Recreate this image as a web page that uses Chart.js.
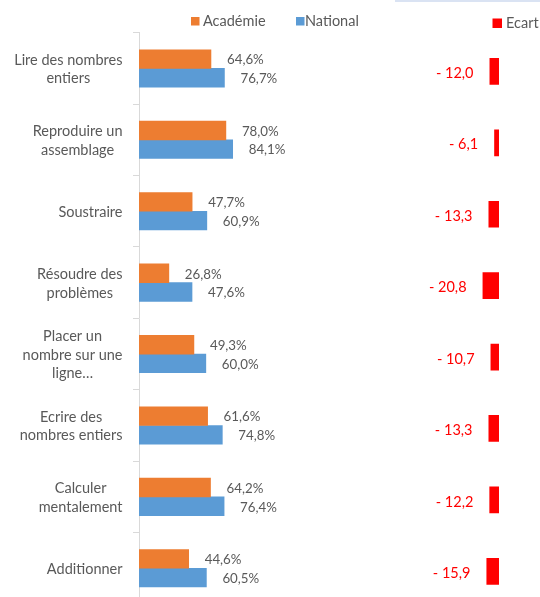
<!DOCTYPE html>
<html lang="fr">
<head>
<meta charset="utf-8">
<title>Résultats par compétence</title>
<script src="https://cdn.jsdelivr.net/npm/chart.js@4.4.1/dist/chart.umd.min.js"></script>
<style>
  html, body { margin: 0; padding: 0; background: #fff; overflow: hidden; }
  #wrap { position: relative; width: 540px; height: 597px; overflow: hidden; }
  #topline { position: absolute; left: 395px; top: 0; width: 145px; height: 2px; background: #dae3f3; }
  canvas { display: block; }
</style>
</head>
<body>
<div id="wrap">
  <canvas id="chart" width="540" height="605"></canvas>
  <div id="topline"></div>
</div>
<script>
// Data
const categories = [
    ['Lire des nombres', 'entiers'],
    ['Reproduire un', 'assemblage'],
    ['Soustraire'],
    ['Résoudre des', 'problèmes'],
    ['Placer un', 'nombre sur une', 'ligne…'],
    ['Ecrire des', 'nombres entiers'],
    ['Calculer', 'mentalement'],
    ['Additionner']
];
const academie = [64.6, 78.0, 47.7, 26.8, 49.3, 61.6, 64.2, 44.6];
const national = [76.7, 84.1, 60.9, 47.6, 60.0, 74.8, 76.4, 60.5];
const ecart = [-12.0, -6.1, -13.3, -20.8, -10.7, -13.3, -12.2, -15.9];

const ORANGE = '#ed7d31';
const BLUE = '#5b9bd5';
const RED = '#ff0000';
const GREY_TEXT = '#595959';
const FONT = 'Lato, "Open Sans", sans-serif';
const ECART_SHIFT = 3; // red bars sit slightly below the category centre

function fmtPct(v) {
    return v.toFixed(1).replace('.', ',') + '%';
}
function fmtEcart(v) {
    return (v < 0 ? '- ' : '') + Math.abs(v).toFixed(1).replace('.', ',');
}

// category labels: block right-aligned against the axis, lines centred in the block
const categoryLabels = {
    id: 'categoryLabels',
    afterDraw(chart) {
        const ctx = chart.ctx;
        const yScale = chart.scales.y;
        const right = chart.chartArea.left - 16.5;
        const lineH = 18.5;
        ctx.save();
        ctx.font = '14.5px ' + FONT;
        ctx.fillStyle = GREY_TEXT;
        ctx.textAlign = 'center';
        ctx.textBaseline = 'middle';
        categories.forEach((lines, i) => {
            const yc = yScale.getPixelForValue(i) + 1;
            const w = Math.max(...lines.map(l => ctx.measureText(l).width));
            const xc = right - w / 2;
            const y0 = yc - (lines.length - 1) * lineH / 2;
            lines.forEach((l, k) => ctx.fillText(l, xc, y0 + k * lineH));
        });
        ctx.restore();
    }
};

// value labels next to the bars
const valueLabels = {
    id: 'valueLabels',
    afterDatasetsDraw(chart) {
        const ctx = chart.ctx;
        ctx.save();
        ctx.textBaseline = 'middle';
        [0, 1].forEach(di => {
            const meta = chart.getDatasetMeta(di);
            const values = chart.data.datasets[di].data;
            ctx.font = '13.3px ' + FONT;
            ctx.fillStyle = GREY_TEXT;
            ctx.textAlign = 'left';
            meta.data.forEach((bar, i) => {
                ctx.fillText(fmtPct(values[i]), bar.x + 16, bar.y + 1);
            });
        });
        const em = chart.getDatasetMeta(2);
        ctx.font = '14.5px ' + FONT;
        ctx.fillStyle = RED;
        ctx.textAlign = 'right';
        em.data.forEach((bar, i) => {
            ctx.fillText(fmtEcart(ecart[i]), bar.x - 16, bar.y + ECART_SHIFT + 2);
        });
        ctx.restore();
    }
};

// nudge the Ecart bars down a little
const ecartShift = {
    id: 'ecartShift',
    beforeDatasetDraw(chart, args) {
        if (args.index === 2) {
            chart.ctx.save();
            chart.ctx.translate(0, ECART_SHIFT);
        }
    },
    afterDatasetDraw(chart, args) {
        if (args.index === 2) chart.ctx.restore();
    }
};

// legend drawn like the original (two keys on top, Ecart on its own on the right)
const customLegend = {
    id: 'customLegend',
    afterDraw(chart) {
        const ctx = chart.ctx;
        const items = [
            { text: 'Académie', color: ORANGE, x: 191, y: 17, s: 8.5, tx: 203, ty: 21.5 },
            { text: 'National', color: BLUE, x: 296, y: 17, s: 8.5, tx: 305, ty: 21.5 },
            { text: 'Ecart', color: RED, x: 492.5, y: 18.5, s: 9.5, tx: 506, ty: 23.5 }
        ];
        ctx.save();
        ctx.font = '14.5px ' + FONT;
        ctx.textBaseline = 'middle';
        ctx.textAlign = 'left';
        items.forEach(it => {
            ctx.fillStyle = it.color;
            ctx.fillRect(it.x, it.y, it.s, it.s);
            ctx.fillStyle = GREY_TEXT;
            ctx.fillText(it.text, it.tx, it.ty);
        });
        ctx.restore();
    }
};

const chart = new Chart(document.getElementById('chart').getContext('2d'), {
    type: 'bar',
    data: {
        labels: categories.map(c => c.join(' ')),
        datasets: [
            {
                label: 'Académie',
                data: academie,
                backgroundColor: ORANGE,
                xAxisID: 'x',
                barThickness: 18.7
            },
            {
                label: 'National',
                data: national,
                backgroundColor: BLUE,
                xAxisID: 'x',
                barThickness: 18.7
            },
            {
                label: 'Ecart',
                data: ecart,
                backgroundColor: RED,
                xAxisID: 'x2',
                grouped: false,
                categoryPercentage: 1,
                barPercentage: 0.374
            }
        ]
    },
    options: {
        indexAxis: 'y',
        responsive: false,
        animation: false,
        layout: { padding: { top: 32.7, bottom: 1, left: 0, right: 0 } },
        plugins: {
            legend: { display: false },
            tooltip: { enabled: false }
        },
        scales: {
            y: {
                type: 'category',
                offset: true,
                grid: {
                    display: true,
                    offset: true,
                    drawOnChartArea: false,
                    drawTicks: true,
                    tickLength: 6,
                    color: '#d9d9d9'
                },
                border: { display: true, color: '#d9d9d9', width: 1 },
                ticks: { display: false },
                afterFit(scale) { scale.width = 139; }
            },
            x: {
                type: 'linear',
                min: 0,
                max: 360,
                display: false
            },
            x2: {
                type: 'linear',
                min: -455.7,
                max: 51.9,
                display: false
            }
        }
    },
    plugins: [ecartShift, valueLabels, categoryLabels, customLegend]
});
</script>
</body>
</html>
